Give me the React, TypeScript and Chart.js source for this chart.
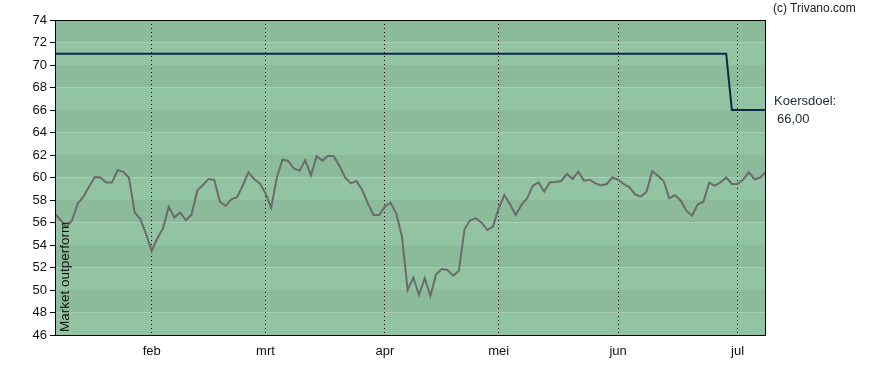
import React, { useEffect, useRef } from "react";
import { Chart, registerables } from "chart.js";

Chart.register(...registerables);

// Trading-day index based x axis
const monthLabels = ["feb", "mrt", "apr", "mei", "jun", "jul"];
const monthIndex = [17, 37, 58, 78, 99, 120];

const yTicks = [46, 48, 50, 52, 54, 56, 58, 60, 62, 64, 66, 68, 70, 72, 74];

const priceValues = [
  56.76, 56.2, 55.6, 56.2, 57.7, 58.3, 59.2, 60.05, 60.0, 59.55,
  59.55, 60.64, 60.5, 60.0, 56.9, 56.3, 55.0, 53.47, 54.6, 55.5,
  57.4, 56.46, 56.9, 56.2, 56.7, 58.83, 59.33, 59.87, 59.78, 57.85,
  57.47, 58.06, 58.24, 59.27, 60.46, 59.87, 59.48, 58.6, 57.3, 60.0,
  61.6, 61.47, 60.8, 60.6, 61.55, 60.2, 61.9, 61.5, 61.94, 61.9,
  61.05, 60.0, 59.48, 59.69, 58.9, 57.7, 56.67, 56.67, 57.4, 57.76,
  56.8, 54.74, 50.0, 51.1, 49.56, 51.04, 49.47, 51.4, 51.87, 51.78,
  51.27, 51.72, 55.42, 56.22, 56.37, 55.98, 55.33, 55.63, 57.26, 58.44,
  57.62, 56.67, 57.56, 58.15, 59.25, 59.57, 58.74, 59.57, 59.6, 59.69,
  60.31, 59.87, 60.52, 59.72, 59.8, 59.48, 59.3, 59.42, 60.0, 59.8,
  59.42, 59.13, 58.5, 58.3, 58.74, 60.58, 60.16, 59.69, 58.15, 58.44,
  57.94, 57.05, 56.6, 57.62, 57.85, 59.54, 59.27, 59.57, 60.0, 59.42,
  59.42, 59.84, 60.46, 59.84, 60.0, 60.52,
];

const targetLastHigh = 118; // index of last 71 value
const targetHigh = 71;
const targetLow = 66;
const targetValues = priceValues.map((_, i) => (i <= targetLastHigh ? targetHigh : targetLow));

const targetLabel = "Koersdoel:";
const targetValueLabel = "66,00";
const yTitle = "Market outperform";
const copyright = "(c) Trivano.com";

const BAND_DARK = "#8bbb9b";
const BAND_LIGHT = "#92c3a3";

const bgPlugin = {
  id: "bands",
  beforeDraw(chart: any) {
    const { ctx, chartArea, scales } = chart;
    const y = scales.y;
    ctx.save();
    for (let i = 0; i < yTicks.length - 1; i++) {
      const lo = yTicks[i];
      const hi = yTicks[i + 1];
      const top = y.getPixelForValue(hi);
      const bot = y.getPixelForValue(lo);
      const fromTop = (74 - hi) / 2;
      ctx.fillStyle = fromTop % 2 === 0 ? BAND_DARK : BAND_LIGHT;
      ctx.fillRect(chartArea.left, top, chartArea.right - chartArea.left, bot - top);
    }
    ctx.restore();
  },
  afterDraw(chart: any) {
    const { ctx, chartArea } = chart;
    ctx.save();
    ctx.strokeStyle = "#000";
    ctx.lineWidth = 1;
    ctx.strokeRect(
      Math.round(chartArea.left) + 0.5,
      Math.round(chartArea.top) + 0.5,
      Math.round(chartArea.right - chartArea.left) - 1,
      Math.round(chartArea.bottom - chartArea.top)
    );
    ctx.restore();
  },
};

export default function App() {
  const ref = useRef<HTMLCanvasElement | null>(null);

  useEffect(() => {
    if (!ref.current) return;
    const labels = priceValues.map((_, i) => i);
    const chart = new Chart(ref.current, {
      type: "line",
      data: {
        labels,
        datasets: [
          {
            data: priceValues.map((v, i) => ({ x: i, y: v })),
            borderColor: "#6b6b6b",
            borderWidth: 2,
            pointRadius: 0,
            tension: 0,
            fill: false,
          },
          {
            data: targetValues.map((v, i) => ({ x: i, y: v })),
            borderColor: "#0b2a48",
            borderWidth: 2,
            pointRadius: 0,
            tension: 0,
            fill: false,
          },
        ],
      },
      options: {
        animation: false,
        responsive: false,
        layout: { padding: { top: 20, right: 122, left: 0, bottom: 0 } },
        plugins: { legend: { display: false }, tooltip: { enabled: false } },
        scales: {
          x: {
            type: "linear",
            min: 0,
            max: priceValues.length - 1,
            afterBuildTicks: (s: any) => {
              s.ticks = monthIndex.map((v) => ({ value: v }));
            },
            afterFit: (s: any) => {
              s.height = 35;
            },
            ticks: {
              autoSkip: false,
              maxRotation: 0,
              padding: 9,
              color: "#111",
              font: { family: "'Liberation Sans', Arial, sans-serif", size: 13 },
              callback: (v: any) => {
                const k = monthIndex.indexOf(Number(v));
                return k >= 0 ? monthLabels[k] : "";
              },
            },
            grid: {
              color: "#000",
              lineWidth: 1,
              drawTicks: false,
            },
            border: { display: false, dash: [1, 3] },
          },
          y: {
            min: 46,
            max: 74,
            afterBuildTicks: (s: any) => {
              s.ticks = yTicks.map((v) => ({ value: v }));
            },
            afterFit: (s: any) => {
              s.width = 55;
            },
            ticks: {
              padding: 3,
              color: "#111",
              font: { family: "'Liberation Sans', Arial, sans-serif", size: 13 },
            },
            grid: {
              drawOnChartArea: false,
              drawTicks: true,
              tickLength: 5,
              color: "#000",
            },
            border: { display: false },
          },
        },
      },
      plugins: [bgPlugin],
    });
    return () => chart.destroy();
  }, []);

  const font = "'Liberation Sans', Arial, sans-serif";
  return (
    <div style={{ position: "absolute", left: 0, top: 0, width: 888, height: 370, background: "#fff" }}>
      <canvas ref={ref} width={888} height={370} style={{ display: "block" }} />
      <div style={{ position: "absolute", left: 773, top: 1, fontFamily: font, fontSize: 12, color: "#222", whiteSpace: "nowrap" }}>
        {copyright}
      </div>
      <div style={{ position: "absolute", left: 774, top: 93, fontFamily: font, fontSize: 13, color: "#1a2a3a", whiteSpace: "nowrap" }}>
        {targetLabel}
      </div>
      <div style={{ position: "absolute", left: 777, top: 111, fontFamily: font, fontSize: 13, color: "#1a2a3a", whiteSpace: "nowrap" }}>
        {targetValueLabel}
      </div>
      <div
        style={{
          position: "absolute",
          left: 57,
          top: 332,
          fontFamily: font,
          fontSize: 13.5,
          color: "#111",
          whiteSpace: "nowrap",
          transform: "rotate(-90deg)",
          transformOrigin: "0 0",
        }}
      >
        {yTitle}
      </div>
    </div>
  );
}
